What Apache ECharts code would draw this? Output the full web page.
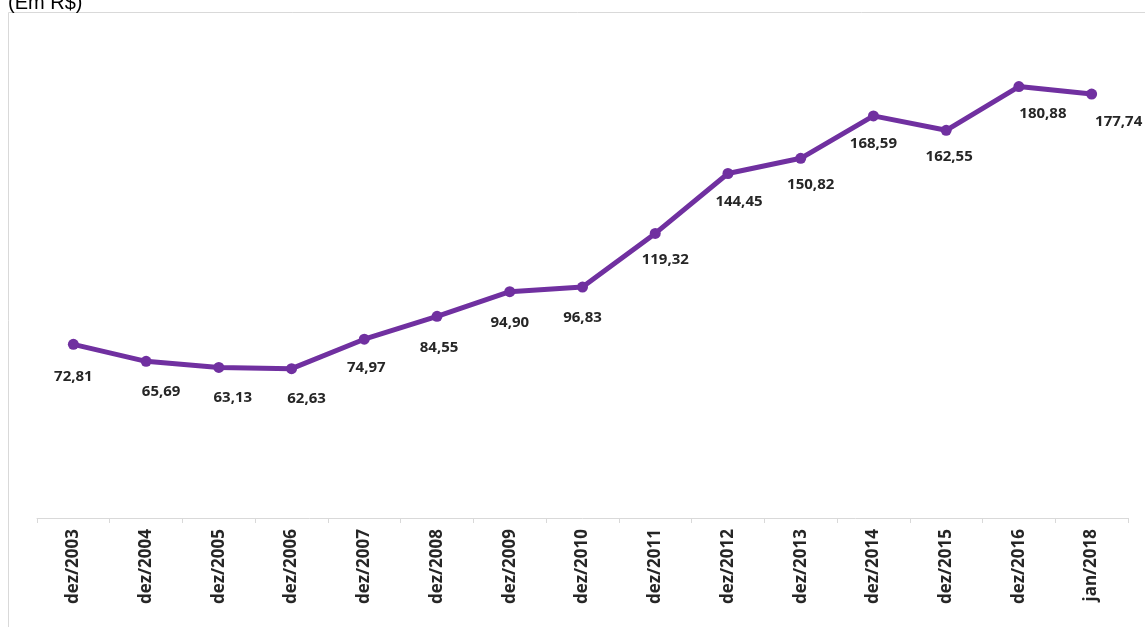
<!DOCTYPE html>
<html><head><meta charset="utf-8">
<script src="https://cdn.jsdelivr.net/npm/echarts@6/dist/echarts.min.js"></script>
<style>html,body{margin:0;padding:0;background:#fff}#c{width:1145px;height:627px}</style>
</head><body><div id="c"></div>
<script>
const categories = ['dez/2003','dez/2004','dez/2005','dez/2006','dez/2007','dez/2008','dez/2009','dez/2010','dez/2011','dez/2012','dez/2013','dez/2014','dez/2015','dez/2016','jan/2018'];
const values = [72.81,65.69,63.13,62.63,74.97,84.55,94.90,96.83,119.32,144.45,150.82,168.59,162.55,180.88,177.74];
const unitLabel = '(Em R$)';
// label nudges (layout only)
const labelDx = [0,15,14,15,2,2,0,0,10,11,10,0,3,24,27];
const labelDy = [32,30,30,30,29,31,31,31,26,28,26,28,26,27,28];

const chart = echarts.init(document.getElementById('c'));
const fmt = v => v.toFixed(2).replace('.', ',');
chart.setOption({
  animation:false,
  graphic:[
    {type:'rect',shape:{x:8.5,y:12.5,width:1145,height:640},style:{fill:'none',stroke:'#d9d9d9',lineWidth:1}},
    {type:'text',left:8,top:-7,style:{text:unitLabel,font:'20px "Liberation Sans", Arial',fill:'#000'}}
  ],
  grid:{left:37,right:17,top:41,bottom:109},
  xAxis:{type:'category',data:categories,boundaryGap:true,
    axisLine:{lineStyle:{color:'#d9d9d9',width:1}},
    axisTick:{show:true,inside:false,length:5,lineStyle:{color:'#d9d9d9'}},
    axisLabel:{rotate:90,interval:0,margin:11,fontSize:17,fontWeight:'bold',color:'#262626',fontFamily:'"Open Sans", sans-serif'}},
  yAxis:{type:'value',min:0,max:200,show:false,splitLine:{show:false}},
  series:[{type:'line',
    data:values.map((v,i)=>({value:v,label:{offset:[labelDx[i],labelDy[i]]}})),
    lineStyle:{color:'#7030a0',width:5},
    itemStyle:{color:'#7030a0'},
    symbol:'circle',symbolSize:11,
    label:{show:true,position:'inside',formatter:p=>fmt(p.value),fontSize:15,fontWeight:'bold',color:'#262626',fontFamily:'"Open Sans", sans-serif'}
  }]
});
</script></body></html>
